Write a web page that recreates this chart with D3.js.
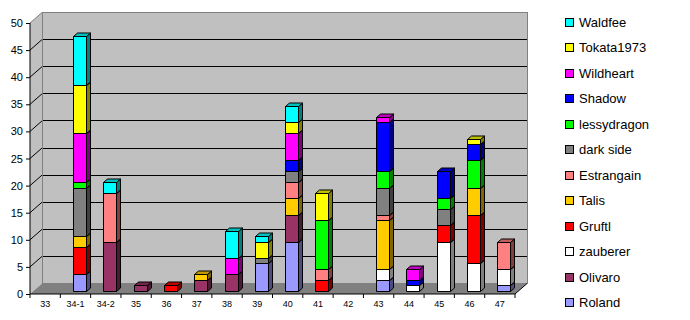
<!DOCTYPE html>
<html>
<head>
<meta charset="utf-8">
<script src="https://cdn.jsdelivr.net/npm/d3@7"></script>
<style>
  body { margin: 0; background: #fff; }
  svg { display: block; font-family: Arial, "Liberation Sans", sans-serif; }
</style>
</head>
<body>
<svg id="chart" width="690" height="320"></svg>
<script>
const categories = ["33", "34-1", "34-2", "35", "36", "37", "38", "39", "40", "41", "42", "43", "44", "45", "46", "47"];

// stacked bottom -> top
const seriesNames = ["Roland", "Olivaro", "zauberer", "Gruftl", "Talis", "Estrangain", "dark side", "lessydragon", "Shadow", "Wildheart", "Tokata1973", "Waldfee"];
const seriesColors = ["#9999ff", "#993366", "#ffffff", "#ff0000", "#ffcc00", "#ff8080", "#808080", "#00ff00", "#0000ff", "#ff00ff", "#ffff00", "#00ffff"];

const roland      = [0, 3, 0, 0, 0, 0, 0, 5, 9, 0, 0, 2, 0, 0, 0, 1];
const olivaro     = [0, 0, 9, 1, 0, 2, 3, 0, 5, 0, 0, 0, 0, 0, 0, 0];
const zauberer    = [0, 0, 0, 0, 0, 0, 0, 0, 0, 0, 0, 2, 1, 9, 5, 3];
const gruftl      = [0, 5, 0, 0, 1, 0, 0, 0, 0, 2, 0, 0, 0, 3, 9, 0];
const talis       = [0, 2, 0, 0, 0, 1, 0, 0, 3, 0, 0, 9, 0, 0, 5, 0];
const estrangain  = [0, 0, 9, 0, 0, 0, 0, 0, 3, 2, 0, 1, 0, 0, 0, 5];
const darkSide    = [0, 9, 0, 0, 0, 0, 0, 1, 2, 0, 0, 5, 0, 3, 0, 0];
const lessydragon = [0, 1, 0, 0, 0, 0, 0, 0, 0, 9, 0, 3, 0, 2, 5, 0];
const shadow      = [0, 0, 0, 0, 0, 0, 0, 0, 2, 0, 0, 9, 1, 5, 3, 0];
const wildheart   = [0, 9, 0, 0, 0, 0, 3, 0, 5, 0, 0, 1, 2, 0, 0, 0];
const tokata      = [0, 9, 0, 0, 0, 0, 0, 3, 2, 5, 0, 0, 0, 0, 1, 0];
const waldfee     = [0, 9, 2, 0, 0, 0, 5, 1, 3, 0, 0, 0, 0, 0, 0, 0];

const yTicks = [0, 5, 10, 15, 20, 25, 30, 35, 40, 45, 50];

const seriesValues = [roland, olivaro, zauberer, gruftl, talis, estrangain, darkSide, lessydragon, shadow, wildheart, tokata, waldfee];

// table for d3.stack
const table = categories.map((c, i) => {
    let row = { cat: c };
    seriesNames.forEach((s, j) => row[s] = seriesValues[j][i]);
    return row;
});

const svg = d3.select("#chart");

const plotLeft = 30, plotRight = 515, plotBottom = 294, plotTop = 23;
const depth = { dx: 12, dy: -10.5 };   // depth of the 3d floor
const barW = 13;

const x = d3.scaleBand().domain(categories).range([plotLeft, plotRight]);
const y = d3.scaleLinear().domain([0, 50]).range([plotBottom, plotTop]);

// walls
svg.append("polygon") // left side wall
    .attr("points", [[plotLeft, y(50)], [plotLeft + depth.dx, y(50) + depth.dy], [plotLeft + depth.dx, plotBottom + depth.dy], [plotLeft, plotBottom]].join(" "))
    .attr("fill", "#c0c0c0");

svg.append("rect") // back wall
    .attr("x", plotLeft + depth.dx)
    .attr("y", y(50) + depth.dy)
    .attr("width", plotRight - plotLeft)
    .attr("height", plotBottom - y(50))
    .attr("fill", "#c0c0c0")
    .attr("stroke", "#808080")
    .attr("shape-rendering", "crispEdges");

svg.append("polygon") // floor
    .attr("points", [[plotLeft, plotBottom], [plotRight, plotBottom], [plotRight + depth.dx, plotBottom + depth.dy], [plotLeft + depth.dx, plotBottom + depth.dy]].join(" "))
    .attr("fill", "#808080");

// gridlines
const grid = svg.append("g");
yTicks.filter(t => t > 0 && t < 50).forEach(t => {
    grid.append("line")
        .attr("x1", plotLeft + depth.dx).attr("x2", plotRight + depth.dx)
        .attr("y1", y(t) + depth.dy).attr("y2", y(t) + depth.dy)
        .attr("stroke", "#000")
        .attr("shape-rendering", "crispEdges");
});
yTicks.filter(t => t > 0).forEach(t => {
    grid.append("line")
        .attr("x1", plotLeft).attr("y1", y(t))
        .attr("x2", plotLeft + depth.dx).attr("y2", y(t) + depth.dy)
        .attr("stroke", t == 50 ? "#808080" : "#000");
});
svg.append("line")
    .attr("x1", plotLeft + depth.dx).attr("x2", plotLeft + depth.dx)
    .attr("y1", y(50) + depth.dy).attr("y2", plotBottom + depth.dy)
    .attr("stroke", "#808080")
    .attr("shape-rendering", "crispEdges");
svg.append("line") // right floor edge
    .attr("x1", plotRight).attr("y1", plotBottom)
    .attr("x2", plotRight + depth.dx).attr("y2", plotBottom + depth.dy)
    .attr("stroke", "#000");

// bars
const stacked = d3.stack().keys(seriesNames)(table);
const ox = depth.dx / 3, oy = depth.dy / 3;   // bars sit in middle third of depth
const bx = depth.dx / 3, by = depth.dy / 3;

const shade = (c, k) => {
    let col = d3.rgb(c);
    return d3.rgb(col.r * k, col.g * k, col.b * k).formatHex();
};

const barsG = svg.append("g");
categories.forEach((cat, ci) => {
    const x0 = Math.round(x(cat) + (x.bandwidth() - barW) / 2 + ox) + 0.5;
    stacked.forEach((layer, si) => {
        const d = layer[ci];
        if (d[1] - d[0] <= 0) return;
        const col = seriesColors[si];
        const yb = Math.round(y(d[0]) + oy) + 0.5, yt = Math.round(y(d[1]) + oy) + 0.5;
        const g = barsG.append("g").attr("stroke", "#000").attr("stroke-width", 1).attr("stroke-linejoin", "round");
        g.append("rect")
            .attr("x", x0).attr("y", yt)
            .attr("width", barW).attr("height", yb - yt)
            .attr("fill", col);
        g.append("polygon")
            .attr("points", [[x0 + barW, yt], [x0 + barW + bx, yt + by], [x0 + barW + bx, yb + by], [x0 + barW, yb]].join(" "))
            .attr("fill", shade(col, 0.5));
        g.append("polygon")
            .attr("points", [[x0, yt], [x0 + barW, yt], [x0 + barW + bx, yt + by], [x0 + bx, yt + by]].join(" "))
            .attr("fill", shade(col, 0.75));
    });
});

// axes
const yAxis = svg.append("g").attr("transform", `translate(${plotLeft},0)`)
    .call(d3.axisLeft(y).tickValues(yTicks).tickSize(4).tickPadding(3));
yAxis.select(".domain").attr("stroke", "#000").attr("d", `M0,${y(50)}V${plotBottom}`);
yAxis.selectAll("text").attr("font-size", 11).attr("font-family", "Arial, 'Liberation Sans', sans-serif").attr("fill", "#000");

const xAxis = svg.append("g").attr("transform", `translate(0,${plotBottom})`)
    .call(d3.axisBottom(x).tickSize(0).tickPadding(7));
xAxis.select(".domain").attr("stroke", "#000").attr("d", `M${plotLeft},0H${plotRight}`);
xAxis.selectAll("text").attr("font-size", 9).attr("font-family", "Arial, 'Liberation Sans', sans-serif").attr("fill", "#000");
categories.concat([null]).forEach((c, i) => {
    const xx = c == null ? plotRight : x(c);
    xAxis.append("line").attr("x1", xx).attr("x2", xx).attr("y1", 0).attr("y2", 4).attr("stroke", "#000");
});

// legend (top = last series)
const legend = svg.append("g");
const legendNames = seriesNames.slice().reverse();
const legendColors = seriesColors.slice().reverse();
legendNames.forEach((name, i) => {
    const ly = 22.3 + i * 25.5;
    legend.append("rect")
        .attr("x", 565.5).attr("y", Math.round(ly - 4.5) + 0.5)
        .attr("width", 8).attr("height", 8)
        .attr("fill", legendColors[i])
        .attr("stroke", "#000");
    legend.append("text")
        .attr("x", 579).attr("y", ly)
        .attr("dy", "0.35em")
        .attr("font-size", 13)
        .attr("fill", "#000")
        .text(name);
});
</script>
</body>
</html>
